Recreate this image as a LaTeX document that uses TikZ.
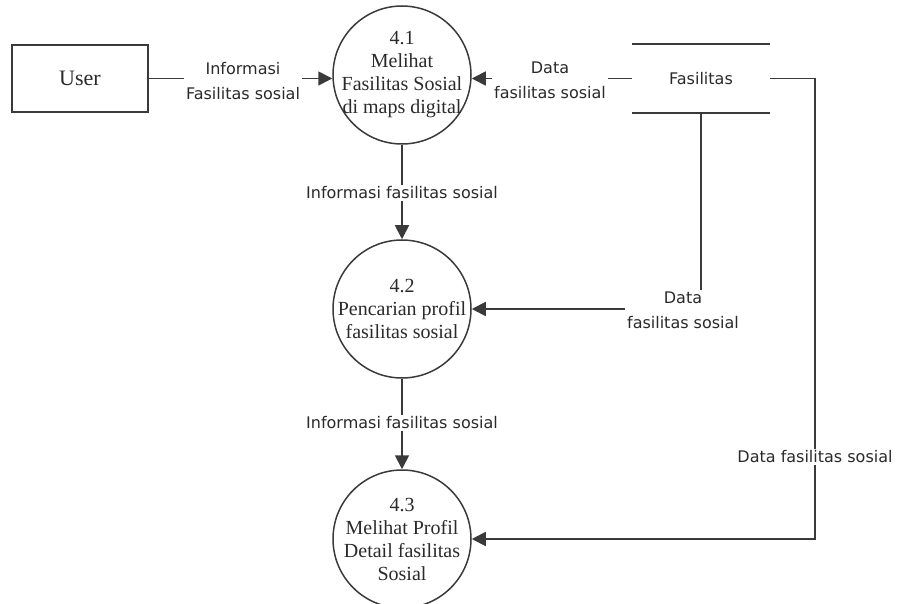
\documentclass[tikz,border=0pt]{standalone}
\usepackage{fontspec}
\setmainfont{Liberation Serif}
\setsansfont{DejaVu Sans}
\usetikzlibrary{arrows.meta}
\definecolor{ln}{HTML}{3A3A3A}
\definecolor{tx}{HTML}{2A2A2A}
\begin{document}
\begin{tikzpicture}[x=1pt,y=-1pt,
 proc/.style={circle,draw=ln,line width=1.5pt,minimum size=138pt,inner sep=0pt},
 proctext/.style={align=center,text=tx,inner sep=0pt,font=\fontsize{20}{23}\selectfont},
 ent/.style={draw=ln,line width=1.6pt,minimum width=136pt,minimum height=67pt,text=tx,font=\fontsize{22}{25}\selectfont},
 store/.style={minimum width=138pt,minimum height=69pt,inner sep=0pt,text=tx,font=\sffamily\fontsize{16}{20}\selectfont},
 storeline/.style={draw=ln,line width=1.7pt},
 flow/.style={draw=ln,line width=1.7pt,-{Triangle[length=14pt,width=14pt]}},
 lbl/.style={fill=white,inner sep=2pt,align=center,text=tx,font=\sffamily\fontsize{16}{25}\selectfont}]
\useasboundingbox (0,0) rectangle (898,604);

% entities and processes
\node[ent] (user) at (80,78.5) {User};
\node[proc] (p1) at (402,75) {};
\node[proctext] (p1t) at (p1) {4.1\\Melihat\\Fasilitas Sosial\\di maps digital};
\node[proc] (p2) at (402,309) {};
\node[proctext] (p2t) at (p2) {4.2\\Pencarian profil\\fasilitas sosial};
\node[proc] (p3) at (402,539) {};
\node[proctext] (p3t) at (p3) {4.3\\Melihat Profil\\Detail fasilitas\\Sosial};

% data store
\node[store] (fs) at (701,78.5) {Fasilitas};
\draw[storeline] (fs.north west) -- (fs.north east) (fs.south west) -- (fs.south east);

% flows
\draw[flow] (user.east) -- (user.east -| p1.west);
\draw[flow] (fs.west) -- (fs.west -| p1.east);
\draw[flow] (p1) -- (p2);
\draw[flow] (p2) -- (p3);
\draw[flow] (fs.south) |- (p2.east);
\draw[flow] (fs.east) -- ++(45,0) |- (p3.east);

% labels
\node[lbl] (l1) at (243,81) {Informasi\\Fasilitas sosial};
\node[lbl] (l2) at (550,80) {Data\\fasilitas sosial};
\node[lbl] (l3) at (402,193) {Informasi fasilitas sosial};
\node[lbl] (l4) at (683,310) {Data\\fasilitas sosial};
\node[lbl] (l5) at (402,423) {Informasi fasilitas sosial};
\node[lbl] (l6) at (815,457) {Data fasilitas sosial};
\end{tikzpicture}
\end{document}
